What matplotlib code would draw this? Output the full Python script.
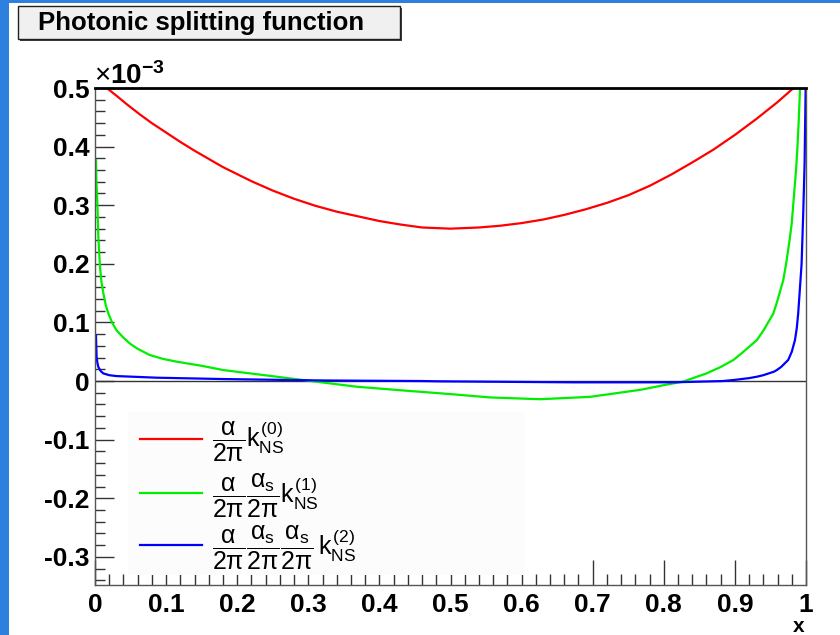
import matplotlib
matplotlib.use("Agg")
import matplotlib.pyplot as plt
from matplotlib.patches import Rectangle
from matplotlib.ticker import MultipleLocator, FixedLocator

plt.rcParams['font.family'] = ['Liberation Sans', 'DejaVu Sans']
plt.rcParams['mathtext.fontset'] = 'custom'
plt.rcParams['mathtext.rm'] = 'Liberation Sans'
plt.rcParams['mathtext.it'] = 'Liberation Sans'
plt.rcParams['mathtext.bf'] = 'Liberation Sans:bold'

# ---- data (values in units of 1e-3) ----
red_x = [0.0155, 0.03, 0.045, 0.063, 0.08, 0.10, 0.12, 0.14, 0.16, 0.18, 0.20, 0.22,
         0.25, 0.28, 0.31, 0.34, 0.37, 0.40, 0.43, 0.46, 0.50, 0.54, 0.57, 0.60, 0.63,
         0.66, 0.69, 0.72, 0.75, 0.78, 0.81, 0.84, 0.87, 0.90, 0.93, 0.96, 0.982]
red_y = [0.501, 0.487, 0.472, 0.455, 0.440, 0.424, 0.408, 0.393, 0.379, 0.365, 0.353, 0.341,
         0.325, 0.311, 0.299, 0.289, 0.281, 0.273, 0.267, 0.262, 0.260, 0.262, 0.265, 0.2695,
         0.2755, 0.2835, 0.293, 0.304, 0.317, 0.333, 0.352, 0.373, 0.395, 0.420, 0.447, 0.476, 0.4995]

green_x = [0.0014, 0.002, 0.0033, 0.0047, 0.007, 0.009, 0.0117, 0.015, 0.0187, 0.024, 0.030,
           0.040, 0.049, 0.060, 0.077, 0.095, 0.115, 0.150, 0.180, 0.237, 0.293, 0.368, 0.438,
           0.499, 0.556, 0.626, 0.696, 0.767, 0.800, 0.827, 0.860, 0.880, 0.898, 0.910, 0.931,
           0.940, 0.954, 0.960, 0.968, 0.972, 0.977, 0.980, 0.983, 0.986, 0.988, 0.990, 0.9916, 0.993]
green_y = [0.377, 0.340, 0.304, 0.246, 0.195, 0.170, 0.150, 0.130, 0.1155, 0.100, 0.087,
           0.074, 0.064, 0.055, 0.0444, 0.038, 0.033, 0.026, 0.0188, 0.0102, 0.0017, -0.0097, -0.0165,
           -0.0222, -0.028, -0.031, -0.027, -0.015, -0.007, -0.001, 0.013, 0.024, 0.036, 0.048, 0.070,
           0.086, 0.115, 0.138, 0.172, 0.200, 0.241, 0.270, 0.315, 0.360, 0.400, 0.450, 0.4995, 0.53]

blue_x = [0.0014, 0.0018, 0.0023, 0.0035, 0.0047, 0.008, 0.0117, 0.020, 0.030, 0.087, 0.18,
          0.32, 0.46, 0.485, 0.672, 0.813, 0.883, 0.900, 0.920, 0.931, 0.940, 0.955, 0.959, 0.965,
          0.975, 0.980, 0.9845, 0.987, 0.989, 0.991, 0.9938, 0.9961, 0.998, 0.9995]
blue_y = [0.078, 0.058, 0.041, 0.030, 0.024, 0.017, 0.013, 0.010, 0.0085, 0.0057, 0.0034,
          0.001, 0.0, -0.0005, -0.0022, -0.0022, 0.0, 0.002, 0.005, 0.0074, 0.010, 0.016, 0.0188, 0.024,
          0.036, 0.050, 0.070, 0.090, 0.115, 0.150, 0.200, 0.286, 0.370, 0.500]

labels = [r'$\dfrac{\alpha}{2\pi}k_{\mathrm{NS}}^{(0)}$',
          r'$\dfrac{\alpha}{2\pi}\dfrac{\alpha_{\mathrm{s}}}{2\pi}k_{\mathrm{NS}}^{(1)}$',
          r'$\dfrac{\alpha}{2\pi}\dfrac{\alpha_{\mathrm{s}}}{2\pi}\dfrac{\alpha_{\mathrm{s}}}{2\pi}\,k_{\mathrm{NS}}^{(2)}$']
colors = ['#ff0000', '#00ee00', '#0000ff']
x_ticks = [0, 0.1, 0.2, 0.3, 0.4, 0.5, 0.6, 0.7, 0.8, 0.9, 1]
x_ticklabels = ['0', '0.1', '0.2', '0.3', '0.4', '0.5', '0.6', '0.7', '0.8', '0.9', '1']
y_ticks = [-0.3, -0.2, -0.1, 0, 0.1, 0.2, 0.3, 0.4, 0.5]
y_ticklabels = ['-0.3', '-0.2', '-0.1', '0', '0.1', '0.2', '0.3', '0.4', '0.5']

W, H = 840, 635
fig = plt.figure(figsize=(W / 100, H / 100), dpi=100)
fig.patch.set_facecolor('white')

def fx(px):
    return px / W

def fy(py):
    return 1 - py / H

# blue canvas border
fig.patches.append(Rectangle((0, 0), fx(9), 1, transform=fig.transFigure,
                             facecolor='#2d80dd', edgecolor='none', zorder=0))
fig.patches.append(Rectangle((0, fy(3)), 1, 3 / H, transform=fig.transFigure,
                             facecolor='#2d80dd', edgecolor='none', zorder=0))

# title box with shadow
fig.patches.append(Rectangle((fx(20), fy(41)), 382 / W, 33 / H, transform=fig.transFigure,
                             facecolor='#404040', edgecolor='none', zorder=1))
fig.patches.append(Rectangle((fx(18), fy(39)), 382 / W, 33 / H, transform=fig.transFigure,
                             facecolor='#f0f0f0', edgecolor='#202020', linewidth=1, zorder=2))
fig.text(fx(38), fy(23), 'Photonic splitting function', fontsize=18.5, fontweight='bold',
         ha='left', va='center', zorder=3)

ax = fig.add_axes([fx(95), fy(585), (806 - 95) / W, (585 - 88) / H])
ax.set_xlim(0, 1)
ax.set_ylim(-0.348, 0.5)

for xs, ys, c in [(red_x, red_y, colors[0]), (green_x, green_y, colors[1]), (blue_x, blue_y, colors[2])]:
    ax.plot(xs, ys, color=c, lw=1.6, zorder=2.2, clip_on=True, solid_joinstyle='round')

ax.axhline(0, color='#333333', lw=1, zorder=2.1)

for s in ['left', 'bottom', 'right']:
    ax.spines[s].set_color('#555555')
    ax.spines[s].set_linewidth(1)
ax.spines['top'].set_color('black')
ax.spines['top'].set_linewidth(2)

ax.xaxis.set_major_locator(FixedLocator(x_ticks))
ax.set_xticklabels(x_ticklabels)
ax.yaxis.set_major_locator(FixedLocator(y_ticks))
ax.set_yticklabels(y_ticklabels)
ax.xaxis.set_minor_locator(MultipleLocator(0.02))
ax.yaxis.set_minor_locator(MultipleLocator(0.02))
ax.tick_params(axis='both', which='both', direction='in', color='#333333', width=1)
ax.tick_params(axis='y', which='major', length=14, left=True, right=False, pad=4)
ax.tick_params(axis='y', which='minor', length=7, left=True, right=False)
ax.tick_params(axis='x', which='major', length=18, bottom=True, top=False, pad=6)
ax.tick_params(axis='x', which='minor', length=8, bottom=True, top=False)
for t in ax.get_xticklabels() + ax.get_yticklabels():
    t.set_fontweight('bold')
    t.set_fontsize(19)

# x10^-3 multiplier and axis title
fig.text(fx(94), fy(84), r'$\times\mathbf{10^{-3}}$', fontsize=20, ha='left', va='baseline')
fig.text(fx(799), fy(632), 'x', fontsize=15, fontweight='bold', ha='center', va='baseline')

# legend box
leg_x0, leg_x1 = fx(128), fx(525)
leg_y_top, leg_y_bot = fy(412), fy(575)
fig.patches.append(Rectangle((leg_x0, leg_y_bot), leg_x1 - leg_x0, leg_y_top - leg_y_bot,
                             transform=fig.transFigure, facecolor='#fcfcfc',
                             edgecolor='none', zorder=3))
legend_rows = [439, 493, 545]
for ry, lab, c in zip(legend_rows, labels, colors):
    fig.lines.append(plt.Line2D([fx(140), fx(202)], [fy(ry), fy(ry)], color=c, lw=1.6,
                                transform=fig.transFigure, zorder=4))
    fig.text(fx(212), fy(ry + 3), lab, fontsize=18, ha='left', va='center', zorder=4)

fig.savefig('out.png', dpi=100)
